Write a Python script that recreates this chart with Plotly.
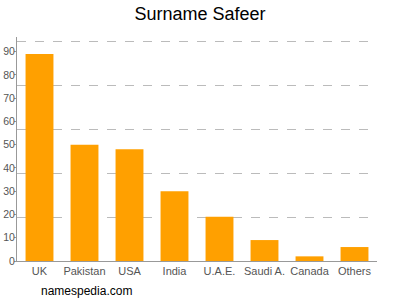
import plotly.graph_objects as go

categories = ["UK", "Pakistan", "USA", "India", "U.A.E.", "Saudi A.", "Canada", "Others"]
values = [89, 50, 48, 30, 19, 9, 2, 6]
tick_vals = [0, 10, 20, 30, 40, 50, 60, 70, 80, 90]

fig = go.Figure()
fig.add_trace(go.Bar(x=categories, y=values, marker=dict(color="#FFA000", line=dict(width=0)),
                     width=0.62, showlegend=False))
# invisible trace for grid axis
fig.add_trace(go.Scatter(x=categories, y=[None]*len(categories), yaxis="y2", showlegend=False,
                         hoverinfo="skip"))

fig.update_layout(
    width=400, height=300,
    margin=dict(l=17, r=23, t=37, b=39, autoexpand=False),
    paper_bgcolor="white", plot_bgcolor="white",
    title=dict(text="Surname Safeer", x=0.5, xanchor="center", y=0.955, yanchor="middle",
               font=dict(family="Liberation Sans, Arial", size=18, color="#000")),
    font=dict(family="Liberation Sans, Arial", size=11, color="#555"),
    xaxis=dict(showline=True, linecolor="#999", linewidth=1, ticks="", showgrid=False,
               automargin=False, tickfont=dict(size=11, color="#555")),
    yaxis=dict(range=[0, 94.4 * 5.1 / 5], tickvals=tick_vals, showgrid=False, showline=True,
               linecolor="#999", linewidth=1, ticks="outside", ticklen=2, tickcolor="#999",
               ticklabelstandoff=-3,
               automargin=False, zeroline=False, tickfont=dict(size=10.5, color="#555")),
    yaxis2=dict(range=[0, 5.1], dtick=1, overlaying="y", side="right", showticklabels=False,
                showgrid=True, gridcolor="#bbb", griddash="dash", gridwidth=1, zeroline=False,
                showline=False, automargin=False),
    bargap=0.38,
)
fig.add_annotation(text="namespedia.com", xref="paper", yref="paper", x=0.06, xanchor="left",
                   y=-0.136, yanchor="middle", showarrow=False,
                   font=dict(family="Liberation Sans, Arial", size=12, color="#000"))
fig.write_html("out.html")
